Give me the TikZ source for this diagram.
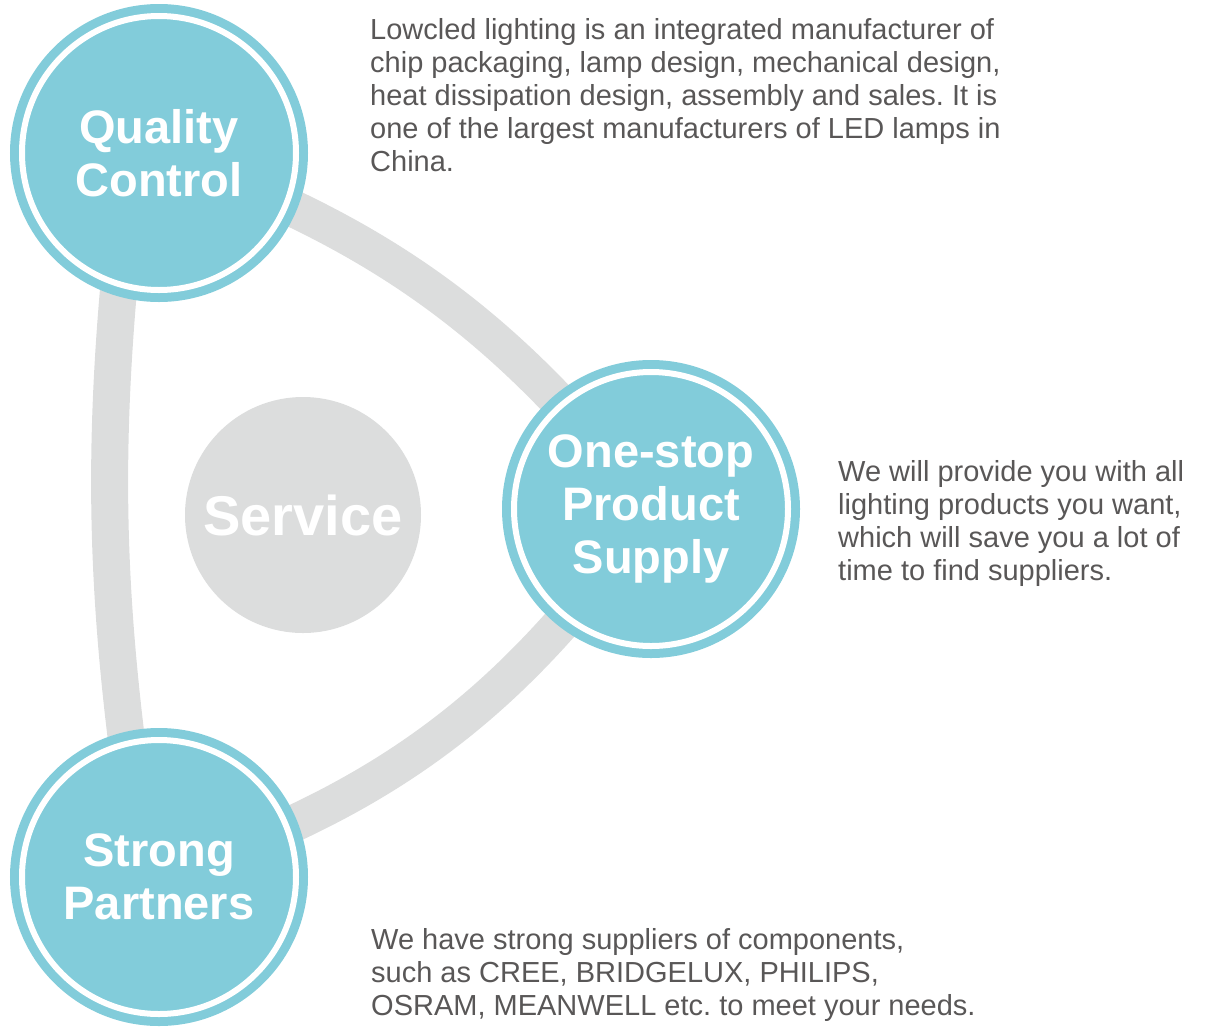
\documentclass[tikz,border=0pt]{standalone}
\usepackage{fontspec}
\setmainfont{Liberation Sans}
\usetikzlibrary{backgrounds}
\definecolor{tealblue}{HTML}{82CCDA}
\definecolor{bandgray}{HTML}{DCDDDD}
\definecolor{textgray}{HTML}{595757}
\frenchspacing

\begin{document}
\begin{tikzpicture}[x=1pt,y=1pt,
	main_node/.style={circle,fill=tealblue,draw=tealblue,double=white,double distance=6pt,line width=9pt,minimum size=274pt,inner sep=0pt,text=white,align=center,font=\bfseries\fontsize{47}{53}\selectfont},
	center_node/.style={circle,fill=bandgray,minimum size=236pt,inner sep=0pt,text=white,font=\bfseries\fontsize{56}{60}\selectfont},
	info_text/.style={anchor=north west,inner sep=0pt,align=left,text=textgray,font=\fontsize{29}{33}\selectfont},
	band/.style={draw=bandgray,line width=37pt}]

		\useasboundingbox (0,0) rectangle (1205,-1026);

		\node[main_node] (1) at (159,-153){Quality\\Control};
		% [main_node] is the ringed circle, (1) is the name used for the bands
		\node[main_node] (2) at (651,-509){One-stop\\Product\\Supply};
		\node[main_node] (3) at (159,-877){Strong\\Partners};
		\node[center_node] (0) at (303,-515){Service};

		\node[info_text] (t1) at (370,-18){Lowcled lighting is an integrated manufacturer of\\chip packaging, lamp design, mechanical design,\\heat dissipation design, assembly and sales. It is\\one of the largest manufacturers of LED lamps in\\China.};
		\node[info_text] (t2) at (838,-460){We will provide you with all\\lighting products you want,\\which will save you a lot of\\time to find suppliers.};
		\node[info_text] (t3) at (371,-928){We have strong suppliers of components,\\such as CREE, BRIDGELUX, PHILIPS,\\OSRAM, MEANWELL etc. to meet your needs.};

		\begin{scope}[on background layer]
		\path[band]
		(1.center) edge[bend left=16] (2.center)
		(2.center) edge[bend left=18] (3.center)
		% the left band sits a little to the left of the centres
		([xshift=-26pt]1.center) edge[bend right=8] ([xshift=-13pt]3.center)
		;
		\end{scope}

	\end{tikzpicture}
\end{document}
